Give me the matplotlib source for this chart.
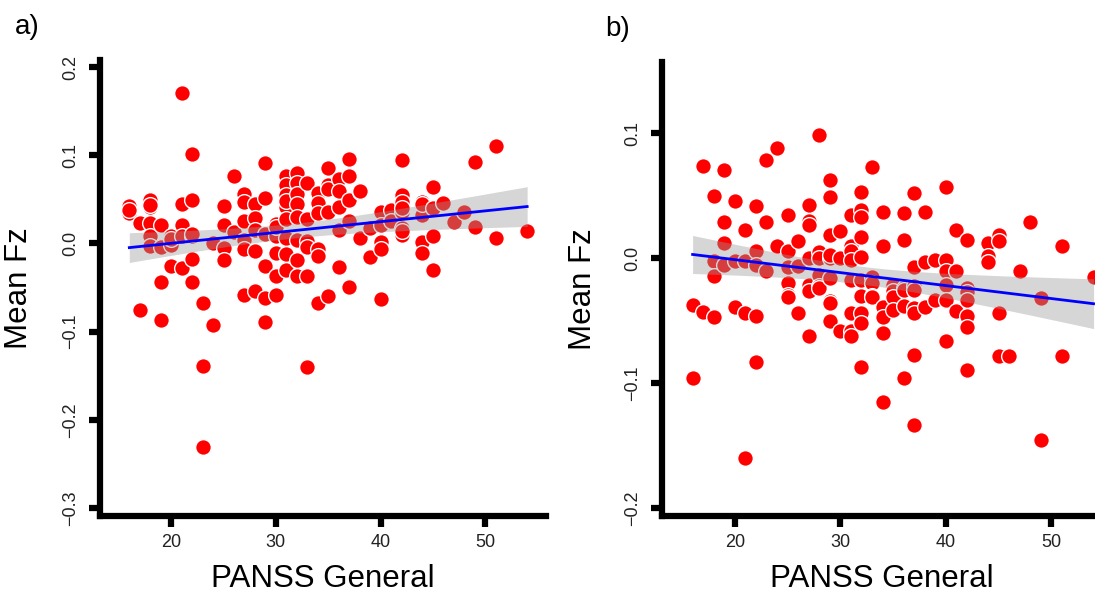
import numpy as np
import matplotlib
matplotlib.use("Agg")
import matplotlib.pyplot as plt

plt.rcParams['font.family'] = ['Liberation Sans', 'DejaVu Sans']

# ---------------- data: panel a ----------------
a_x = [16, 16, 16, 17, 17, 18, 18, 18, 18, 18, 18,
       19, 19, 19, 19, 20, 20, 20, 20,
       21, 21, 21, 21, 21, 22, 22, 22, 22, 22, 22,
       23, 23, 23, 24, 24, 25, 25, 25, 25, 26, 26,
       27, 27, 27, 27, 27, 27, 28, 28, 28, 28, 28,
       29, 29, 29, 29, 29, 29, 30, 30, 30, 30, 30, 30,
       31, 31, 31, 31, 31, 31, 31, 31, 31,
       32, 32, 32, 32, 32, 32, 32, 32,
       33, 33, 33, 33, 33, 33, 34, 34, 34, 34, 34, 34,
       35, 35, 35, 35, 35, 36, 36, 36, 36, 36, 37, 37, 37, 37, 37,
       38, 38, 38, 39, 39, 40, 40, 40, 40, 40, 41, 41,
       42, 42, 42, 42, 42, 42, 42, 42, 44, 44, 44, 44, 44, 45, 45, 45, 45,
       46, 47, 48, 49, 49, 51, 51, 54]
a_y = [0.042, 0.035, 0.038, 0.023, -0.076, 0.049, 0.041, 0.023, 0.008, -0.003, 0.044,
       0.021, -0.004, -0.044, -0.087, 0.008, -0.002, -0.026, 0.005,
       0.171, 0.045, 0.021, 0.008, -0.028, 0.101, 0.049, 0.008, -0.018, -0.044, 0.011,
       -0.067, -0.139, -0.231, 0.000, -0.092, 0.043, 0.021, -0.005, -0.019, 0.077, 0.013,
       0.056, 0.047, 0.026, 0.004, -0.006, -0.058, 0.045, 0.029, 0.015, -0.008, -0.054,
       0.091, 0.052, 0.011, -0.026, -0.062, -0.089, 0.022, 0.008, -0.011, -0.037, -0.059, 0.019,
       0.077, 0.066, 0.055, 0.041, 0.028, 0.006, -0.012, -0.030, 0.048,
       0.080, 0.068, 0.056, 0.045, 0.004, -0.019, -0.037, 0.030,
       0.068, 0.028, 0.003, -0.004, -0.037, -0.140, 0.057, 0.046, 0.034, -0.006, -0.014, -0.067,
       0.086, 0.066, 0.062, 0.036, -0.060, 0.073, 0.060, 0.041, 0.015, -0.027, 0.096, 0.077, 0.049, 0.026, -0.049,
       0.058, 0.060, 0.006, 0.017, -0.015, 0.036, 0.021, 0.002, -0.006, -0.063, 0.038, 0.026,
       0.095, 0.055, 0.047, 0.036, 0.017, 0.010, 0.014, 0.040, 0.047, 0.032, 0.002, -0.011, 0.045,
       0.064, 0.040, 0.008, -0.030,
       0.046, 0.024, 0.036, 0.092, 0.019, 0.111, 0.006, 0.014]

# ---------------- data: panel b ----------------
b_x = [16, 16, 17, 17, 18, 18, 18, 18, 19, 19, 19, 19,
       20, 20, 20, 21, 21, 21, 21, 22, 22, 22, 22, 22,
       23, 23, 23, 24, 24, 25, 25, 25, 25, 25, 25,
       26, 26, 26, 27, 27, 27, 27, 27, 27, 27,
       28, 28, 28, 28, 28, 28, 29, 29, 29, 29, 29, 29, 29, 29, 29,
       30, 30, 30, 31, 31, 31, 31, 31, 31, 31, 31,
       32, 32, 32, 32, 32, 32, 32, 32, 32, 32,
       33, 33, 33, 33, 33, 34, 34, 34, 34, 34, 34,
       35, 35, 35, 35, 36, 36, 36, 36, 36, 36,
       37, 37, 37, 37, 37, 37, 37, 37, 38, 38, 38, 39, 39,
       40, 40, 40, 40, 40, 40, 41, 41, 41,
       42, 42, 42, 42, 42, 42, 42, 44, 44, 44,
       45, 45, 45, 45, 46, 47, 48, 49, 49, 51, 51, 54]
b_y = [-0.037, -0.096, 0.074, -0.043, 0.050, -0.002, -0.014, -0.047, 0.071, 0.029, 0.012, -0.005,
       0.046, -0.002, -0.039, 0.023, -0.002, -0.044, -0.160, 0.042, 0.006, -0.005, -0.046, -0.083,
       0.079, 0.029, -0.010, 0.088, 0.010, 0.035, 0.006, -0.007, -0.020, -0.029, -0.031,
       0.014, -0.006, -0.044, 0.043, 0.030, 0.027, -0.021, -0.026, -0.062, 0.000,
       0.099, 0.005, 0.000, -0.013, -0.022, -0.024, 0.063, 0.049, 0.019, 0.000, -0.016, -0.034, -0.036, -0.050, 0.003,
       0.022, 0.000, -0.058, 0.035, 0.010, 0.006, -0.001, -0.017, -0.044, -0.058, -0.062,
       0.053, 0.039, 0.033, 0.017, 0.001, -0.017, -0.030, -0.044, -0.052, -0.087,
       0.073, -0.015, -0.020, -0.030, -0.031, 0.037, 0.010, -0.039, -0.047, -0.060, -0.115,
       -0.021, -0.026, -0.031, -0.041, 0.036, 0.015, -0.024, -0.025, -0.038, -0.096,
       0.052, -0.007, -0.022, -0.025, -0.040, -0.044, -0.077, -0.133, 0.037, -0.003, -0.039, -0.001, -0.033,
       0.057, -0.001, -0.010, -0.021, -0.033, -0.066, 0.023, -0.010, -0.042,
       0.015, -0.024, -0.027, -0.033, -0.046, -0.055, -0.089, 0.012, 0.002, -0.003,
       0.019, 0.014, -0.044, -0.078, -0.078, -0.010, 0.029, -0.032, -0.145, 0.010, -0.078, -0.015]

a_yticks = [0.2, 0.1, 0.0, -0.1, -0.2, -0.3]
b_yticks = [0.1, 0.0, -0.1, -0.2]
xticks = [20, 30, 40, 50]

W, H = 1095, 596
fig = plt.figure(figsize=(W / 100, H / 100), dpi=100)


def fit_band(x, y, xs, tval=1.977):
    x = np.asarray(x, float)
    y = np.asarray(y, float)
    n = len(x)
    b1, b0 = np.polyfit(x, y, 1)
    yhat = b0 + b1 * x
    s = np.sqrt(np.sum((y - yhat) ** 2) / (n - 2))
    xm = x.mean()
    sxx = np.sum((x - xm) ** 2)
    yfit = b0 + b1 * xs
    se = s * np.sqrt(1.0 / n + (xs - xm) ** 2 / sxx)
    return yfit, yfit - tval * se, yfit + tval * se


def panel(rect, x, y, yticks, ylim, xlim, letter, letter_pos, ylab_x):
    ax = fig.add_axes(rect)
    ax.scatter(x, y, s=128, c='#FF0000', edgecolors='white', linewidths=1.0, zorder=2)
    xs = np.linspace(min(x), max(x), 100)
    yfit, lo, hi = fit_band(x, y, xs)
    ax.fill_between(xs, lo, hi, color='#999999', alpha=0.4, linewidth=0, zorder=3)
    ax.plot(xs, yfit, color='#0000FF', lw=2.0, zorder=4)
    ax.set_xlim(*xlim)
    ax.set_ylim(*ylim)
    ax.set_xticks(xticks)
    ax.set_xticklabels([str(t) for t in xticks])
    ax.set_yticks(yticks)
    ax.set_yticklabels([f"{t:.1f}".replace('-', '\u2212') for t in yticks],
                       rotation=90, va='center')
    for s in ['top', 'right']:
        ax.spines[s].set_visible(False)
    for s in ['left', 'bottom']:
        ax.spines[s].set_linewidth(4.5)
        ax.spines[s].set_capstyle('projecting')
    ax.tick_params(axis='both', direction='out', length=8, width=4.5,
                   labelsize=13, labelcolor='#222222')
    ax.tick_params(axis='x', pad=5)
    ax.tick_params(axis='y', pad=7)
    ax.set_xlabel('PANSS General', fontsize=22.5, labelpad=9)
    ax.set_ylabel('Mean Fz', fontsize=22.5)
    ax.yaxis.set_label_coords(ylab_x, 0.5)
    fig.text(letter_pos[0] / W, 1 - letter_pos[1] / H, letter, fontsize=20,
             ha='left', va='center')
    return ax


panel([100 / W, 1 - 516 / H, 446 / W, 456 / H], a_x, a_y, a_yticks,
      (-0.309, 0.208), (13.2, 55.8), 'a)', (15, 27), -0.148)
panel([662 / W, 1 - 516 / H, 440 / W, 454 / H], b_x, b_y, b_yticks,
      (-0.206, 0.157), (13.1, 54.8), 'b)', (605, 29), -0.145)

fig.savefig('out.png', dpi=100)
